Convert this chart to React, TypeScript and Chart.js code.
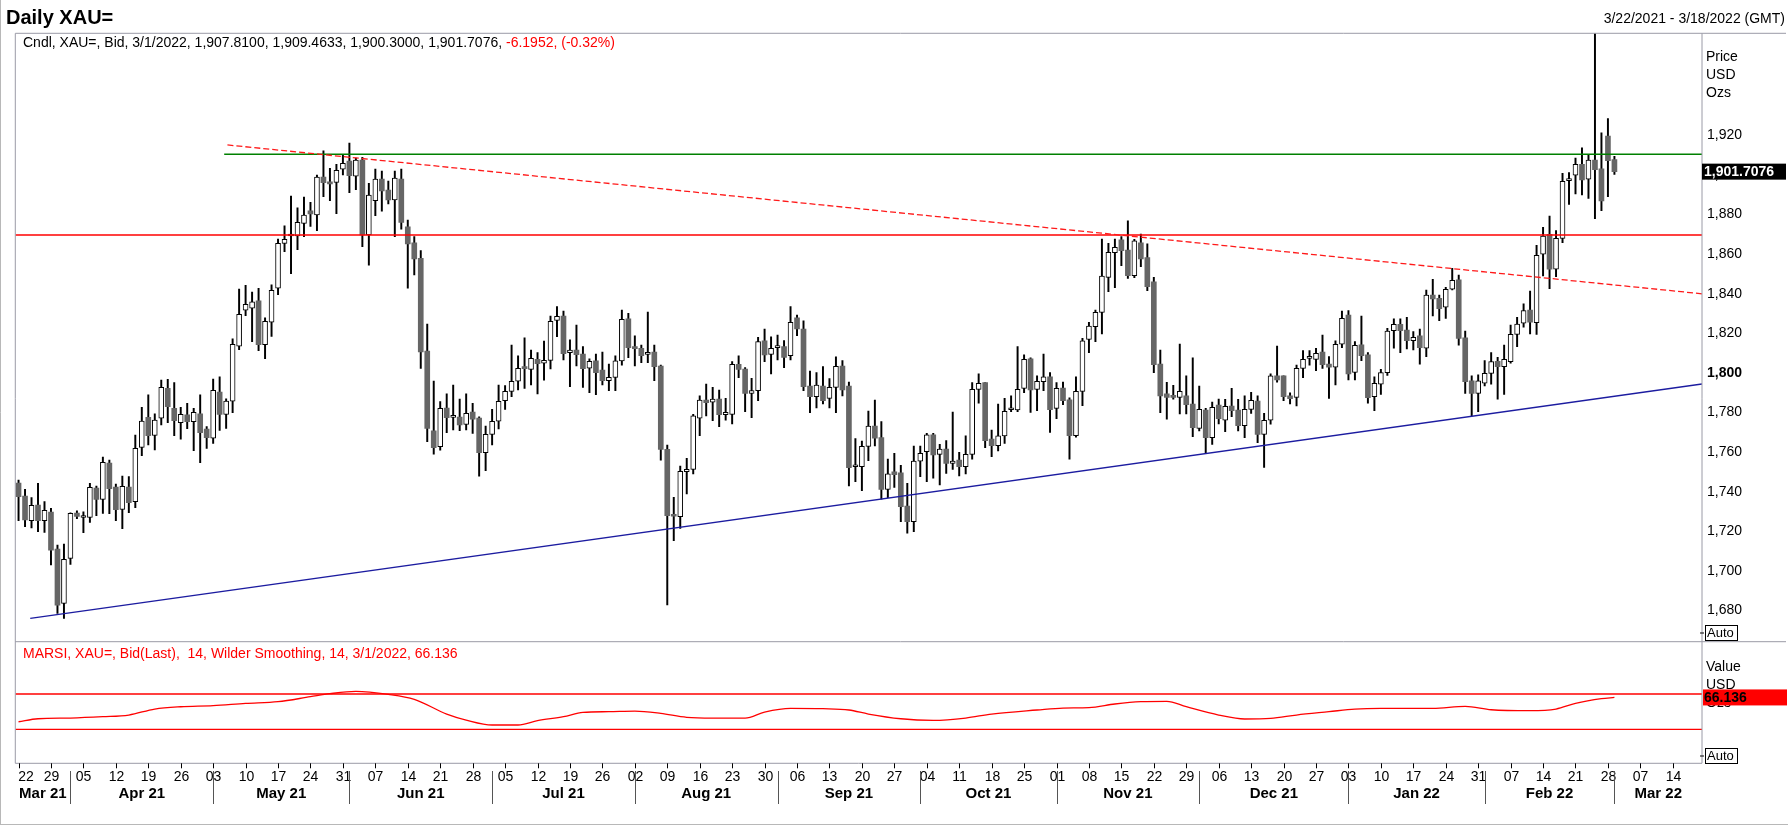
import React, { useEffect, useRef } from "react";
import { Chart, registerables } from "chart.js";

Chart.register(...registerables);

const W = 1788;
const H = 827;
const FONT = '"Liberation Sans", Arial, Helvetica, sans-serif';

// ---------- categories (one slot per weekday, 3/22/2021 .. 3/18/2022) ----------
function buildWeekdays(startIso: string, count: number): string[] {
  const out: string[] = [];
  const d = new Date(startIso + "T00:00:00Z");
  while (out.length < count) {
    const wd = d.getUTCDay();
    if (wd !== 0 && wd !== 6) out.push(d.toISOString().slice(0, 10));
    d.setUTCDate(d.getUTCDate() + 1);
  }
  return out;
}
const dates = buildWeekdays("2021-03-22", 260);

// ---------- daily OHLC (XAU=, Bid) ----------
const openP = [
  1744.4,1737.8,1725.4,1733.3,1725.4,1729.7,1711.0,1683.6,1706.3,1729.2,
  1727.0,1727.0,1741.9,1736.1,1754.5,1742.4,1731.1,1742.4,1735.0,1762.4,
  1777.6,1768.5,1777.1,1792.2,1782.1,1774.9,1778.8,1775.4,1779.3,1771.7,
  1767.0,1790.4,1779.0,1785.8,1813.5,1831.7,1832.7,1836.4,1814.3,1825.6,
  1842.8,1865.5,1869.2,1869.2,1875.6,1881.9,1879.8,1899.0,1895.8,1896.3,
  1902.9,1907.1,1899.4,1907.5,1869.7,1887.1,1898.0,1892.4,1887.4,1898.0,
  1873.8,1865.8,1857.9,1811.1,1770.8,1762.8,1782.3,1777.6,1777.7,1774.0,
  1780.3,1777.2,1759.7,1769.0,1775.6,1786.0,1790.7,1795.8,1802.5,1801.8,
  1806.9,1804.9,1806.4,1826.6,1828.8,1810.3,1811.6,1809.6,1802.4,1806.1,
  1801.5,1796.1,1797.8,1806.1,1827.3,1812.8,1812.5,1809.4,1810.6,1803.5,
  1761.4,1728.1,1727.4,1750.1,1751.3,1777.1,1786.3,1785.2,1786.8,1778.9,
  1779.1,1804.4,1802.0,1789.7,1791.1,1816.2,1809.4,1812.8,1813.3,1808.7,
  1827.8,1822.2,1793.4,1788.0,1793.4,1787.2,1792.7,1803.5,1793.4,1752.6,
  1752.7,1762.9,1773.2,1767.3,1741.2,1750.0,1749.5,1732.8,1724.9,1755.5,
  1760.3,1768.7,1758.9,1761.6,1754.3,1756.0,1752.7,1758.9,1791.7,1795.1,
  1766.6,1763.3,1768.2,1781.4,1781.3,1792.2,1807.1,1791.7,1795.6,1798.0,
  1782.1,1792.4,1786.4,1768.3,1790.7,1817.0,1823.4,1830.6,1848.3,1860.8,
  1867.2,1862.1,1849.2,1865.8,1858.3,1846.0,1804.5,1789.4,1788.4,1787.7,
  1788.4,1784.3,1772.0,1781.3,1767.3,1783.8,1776.1,1783.3,1781.3,1773.4,
  1781.6,1785.8,1769.0,1776.1,1798.5,1798.5,1788.4,1787.7,1802.3,1807.4,
  1806.9,1810.6,1804.5,1802.9,1814.5,1829.3,1800.3,1814.2,1809.1,1788.0,
  1794.3,1800.2,1821.4,1824.6,1821.7,1816.3,1818.7,1812.5,1839.4,1837.7,
  1833.2,1842.3,1847.0,1817.8,1796.0,1789.7,1794.8,1799.8,1805.9,1803.2,
  1805.7,1819.5,1825.1,1831.8,1825.4,1860.0,1870.1,1852.4,1868.0,1897.2,
  1899.9,1905.4,1897.9,1907.6,1903.1,1919.7,1907.81,
];
const highP = [
  1745.9,1741.2,1737.1,1744.2,1735.0,1731.6,1713.1,1713.6,1729.4,1730.4,
  1729.9,1744.2,1742.9,1757.5,1756.0,1743.9,1747.9,1747.6,1768.6,1782.6,
  1788.9,1779.3,1796.4,1796.8,1795.1,1782.6,1784.6,1782.1,1788.9,1772.9,
  1796.9,1798.0,1786.9,1817.2,1842.4,1844.3,1840.8,1842.8,1827.8,1844.5,
  1867.7,1874.3,1889.4,1883.4,1888.8,1886.2,1900.0,1912.2,1903.4,1905.4,
  1910.1,1916.2,1908.5,1909.0,1895.8,1903.0,1902.0,1897.0,1902.0,1903.0,
  1877.3,1868.9,1861.8,1824.7,1795.9,1785.5,1789.4,1793.9,1786.8,1789.4,
  1784.7,1777.9,1773.2,1781.6,1793.9,1793.6,1814.1,1808.6,1817.7,1811.6,
  1810.3,1816.1,1828.8,1833.5,1831.3,1816.7,1824.2,1813.3,1807.1,1809.6,
  1810.6,1804.5,1808.6,1831.8,1830.1,1818.7,1814.1,1830.8,1814.1,1804.0,
  1763.6,1737.2,1753.0,1756.9,1779.1,1788.4,1794.4,1792.7,1791.4,1787.2,
  1805.7,1808.6,1802.7,1797.3,1818.0,1822.2,1818.3,1819.2,1816.3,1833.5,
  1829.3,1826.4,1801.0,1800.2,1803.2,1797.1,1808.1,1806.2,1795.4,1766.8,
  1765.6,1780.8,1786.3,1775.4,1756.5,1759.4,1753.3,1744.2,1763.1,1763.1,
  1769.5,1769.5,1763.9,1765.8,1780.3,1759.9,1768.2,1795.1,1799.5,1795.1,
  1771.2,1784.3,1787.2,1788.4,1813.3,1809.1,1807.7,1798.5,1809.6,1800.2,
  1795.1,1795.4,1787.4,1798.0,1817.5,1825.6,1831.8,1867.7,1865.5,1867.7,
  1868.9,1876.8,1867.5,1870.2,1865.2,1848.3,1811.6,1795.3,1793.8,1814.6,
  1798.5,1807.6,1793.4,1782.1,1785.3,1786.8,1786.7,1792.2,1786.7,1788.4,
  1790.2,1788.4,1779.6,1799.5,1813.6,1798.5,1790.0,1804.0,1811.3,1811.3,
  1812.5,1819.2,1808.3,1816.2,1831.3,1831.5,1815.8,1828.8,1810.3,1798.1,
  1801.8,1822.6,1827.4,1827.4,1828.1,1820.9,1822.2,1841.9,1847.3,1839.4,
  1843.3,1852.9,1849.5,1821.2,1798.5,1799.0,1806.2,1810.3,1807.9,1814.1,
  1824.2,1828.1,1834.9,1841.4,1864.5,1873.6,1879.3,1871.9,1900.9,1901.2,
  1908.5,1913.7,1910.1,1974.0,1921.3,1928.5,1909.46,
];
const lowP = [
  1725.4,1722.3,1721.7,1719.8,1719.5,1703.0,1678.5,1676.0,1703.3,1726.4,
  1719.3,1724.5,1727.9,1729.1,1728.9,1725.4,1721.3,1729.4,1731.9,1758.2,
  1763.6,1761.1,1773.7,1774.9,1768.3,1766.6,1771.8,1760.7,1754.7,1761.9,
  1764.4,1771.0,1772.0,1780.0,1811.8,1829.0,1815.8,1811.3,1807.2,1818.4,
  1839.6,1861.3,1850.2,1862.3,1868.9,1874.0,1871.9,1889.1,1887.1,1880.5,
  1900.0,1891.1,1892.6,1863.8,1854.5,1879.5,1881.8,1885.4,1868.9,1872.7,
  1842.8,1849.5,1802.3,1765.3,1759.0,1761.0,1769.8,1771.2,1770.8,1771.2,
  1769.5,1747.9,1750.6,1763.6,1771.7,1781.6,1788.0,1791.4,1792.2,1793.9,
  1789.4,1796.4,1802.0,1818.3,1806.6,1793.1,1803.5,1792.7,1790.0,1789.0,
  1793.9,1791.1,1791.1,1804.0,1807.7,1803.5,1805.2,1805.2,1796.1,1756.0,
  1682.8,1715.3,1721.5,1738.9,1749.0,1768.3,1778.3,1775.9,1772.9,1776.2,
  1774.2,1797.6,1780.5,1777.4,1786.0,1805.7,1799.5,1806.6,1802.7,1806.6,
  1818.9,1791.1,1779.9,1782.4,1784.3,1782.4,1779.9,1788.4,1742.9,1745.1,
  1740.5,1755.7,1763.1,1736.2,1737.0,1742.2,1724.9,1719.0,1719.8,1747.6,
  1745.1,1746.8,1743.4,1749.3,1751.3,1748.0,1749.0,1756.4,1784.7,1762.3,
  1757.7,1760.6,1764.4,1780.4,1780.4,1790.0,1780.1,1781.0,1791.1,1769.9,
  1776.9,1784.0,1756.4,1767.5,1783.5,1810.3,1815.8,1819.7,1841.1,1843.1,
  1854.2,1847.8,1848.2,1853.7,1841.6,1800.2,1779.9,1776.6,1786.7,1779.3,
  1779.3,1767.8,1770.7,1759.4,1763.9,1774.2,1770.4,1777.9,1770.7,1767.3,
  1779.6,1764.8,1752.3,1774.1,1795.3,1786.0,1784.3,1783.3,1797.6,1804.0,
  1801.2,1802.3,1787.2,1793.9,1812.8,1796.5,1796.5,1806.2,1784.7,1781.0,
  1789.2,1798.7,1812.5,1810.3,1812.1,1811.6,1804.4,1808.2,1828.8,1826.4,
  1827.6,1841.9,1814.0,1789.7,1778.4,1780.5,1793.4,1794.3,1786.7,1789.2,
  1804.9,1813.3,1823.1,1819.7,1819.5,1849.0,1842.6,1848.7,1865.8,1885.2,
  1890.4,1889.9,1888.2,1878.0,1882.0,1889.1,1900.30,
];
const closeP = [
  1737.5,1725.7,1733.1,1725.4,1730.6,1710.5,1682.7,1705.8,1729.1,1727.5,
  1727.2,1742.2,1736.1,1754.8,1741.5,1730.9,1742.7,1734.5,1761.9,1775.7,
  1768.3,1776.2,1792.7,1783.0,1775.9,1779.1,1775.4,1780.1,1769.8,1767.3,
  1791.2,1779.0,1785.8,1814.5,1829.6,1834.7,1836.0,1814.3,1826.1,1841.8,
  1865.5,1867.5,1869.3,1876.1,1879.8,1880.3,1898.9,1896.2,1895.5,1902.4,
  1905.9,1899.7,1907.5,1869.7,1889.9,1898.0,1892.0,1887.4,1898.5,1876.0,
  1865.2,1857.6,1810.6,1772.0,1762.2,1782.1,1777.4,1777.6,1773.7,1779.6,
  1776.7,1759.7,1769.0,1775.6,1785.7,1790.7,1795.8,1802.3,1802.2,1807.4,
  1804.7,1806.4,1826.1,1828.6,1809.8,1811.6,1809.3,1802.2,1805.9,1800.2,
  1796.1,1797.8,1806.1,1827.1,1812.8,1812.3,1808.7,1810.4,1803.2,1761.4,
  1727.9,1727.6,1750.3,1751.3,1778.3,1786.3,1785.0,1786.8,1778.9,1780.1,
  1804.4,1801.8,1789.7,1791.1,1815.8,1809.1,1812.4,1812.8,1807.9,1825.6,
  1822.2,1793.1,1788.0,1793.9,1786.0,1792.7,1803.4,1791.4,1752.2,1752.6,
  1762.9,1773.2,1767.0,1741.2,1749.0,1748.6,1732.4,1724.9,1755.5,1759.4,
  1768.7,1758.6,1761.6,1754.3,1755.5,1752.7,1758.9,1791.7,1794.8,1765.8,
  1763.3,1768.2,1780.6,1781.4,1791.7,1806.9,1791.4,1795.8,1798.0,1781.4,
  1792.2,1786.0,1768.3,1790.7,1816.2,1823.7,1830.6,1849.0,1861.0,1863.5,
  1861.8,1849.2,1866.7,1857.6,1843.6,1804.2,1788.4,1787.7,1787.7,1790.7,
  1784.0,1772.4,1781.6,1767.3,1782.6,1776.9,1783.1,1781.0,1773.4,1781.6,
  1786.2,1769.0,1776.1,1798.5,1796.5,1788.0,1787.0,1802.3,1806.9,1807.4,
  1809.9,1804.2,1802.9,1814.5,1827.6,1799.5,1814.0,1808.8,1787.5,1794.8,
  1800.2,1821.2,1824.6,1821.4,1816.3,1818.0,1812.8,1839.3,1837.4,1832.5,
  1842.3,1846.8,1817.5,1795.6,1789.7,1796.0,1799.8,1805.7,1803.2,1806.9,
  1819.5,1824.7,1831.5,1825.6,1859.4,1869.2,1852.4,1868.0,1896.8,1897.2,
  1905.4,1897.5,1907.6,1902.7,1886.9,1907.3,1901.71,
];

// ---------- drawn levels / trend lines (slot index, price) ----------
const redLevel = 1869.7;
const greenLevelX = [31.7, 259.5];
const greenLevel = 1910.5;
const downTrendX = [32.2, 259.5];
const downTrendY = [1915.2, 1840.0];
const upTrendX = [1.8, 259.5];
const upTrendY = [1676.0, 1794.4];

// ---------- MARSI (smoothed RSI) ----------
const rsiIdx = [0,3,8,13,17,21,25,30,35,40,45,48,52,57,61,66,69,73,77,80,84,87,91,95,99,103,107,112,115,119,124,128,131,136,141,146,150,157,161,165,169,173,177,180,185,189,193,197,202,206,210,218,223,227,233,237,240,244,246];
const rsiVal = [38.6,42.0,42.8,44.3,46.2,53.0,55.6,56.8,59.4,61.3,67.0,70.4,73.0,69.6,64.0,47.3,40.5,34.9,34.9,39.8,44.3,49.2,50.0,50.7,48.1,43.6,42.8,42.8,49.6,53.8,53.4,51.9,47.3,42.0,40.2,42.8,47.3,51.9,54.1,54.5,58.7,61.3,61.7,55.6,46.2,41.7,42.4,46.2,50.0,53.0,53.8,53.8,56.0,52.2,51.1,53.0,59.4,64.7,66.136];
const rsiLevels = [70, 30];

// ---------- tick labels ----------
const priceTicks = [1680,1700,1720,1740,1760,1780,1800,1820,1840,1860,1880,1900,1920];
const weekTickLabels = ["22","29","05","12","19","26","03","10","17","24","31","07","14","21","28","05","12","19","26","02","09","16","23","30","06","13","20","27","04","11","18","25","01","08","15","22","29","06","13","20","27","03","10","17","24","31","07","14","21","28","07","14"];
const monthNames = ["Mar 21","Apr 21","May 21","Jun 21","Jul 21","Aug 21","Sep 21","Oct 21","Nov 21","Dec 21","Jan 22","Feb 22","Mar 22"];
const monthStartIdx = [0,8,30,51,73,95,117,139,160,182,205,226,246];

const lastPrice = 1901.7076;
const lastRsi = 66.136;
const headerMain = "Cndl, XAU=, Bid, 3/1/2022, 1,907.8100, 1,909.4633, 1,900.3000, 1,901.7076, ";
const headerChange = "-6.1952, (-0.32%)";
const rsiHeader = "MARSI, XAU=, Bid(Last),  14, Wilder Smoothing, 14, 3/1/2022, 66.136";

// ---------- layout ----------
const PLOT_LEFT = 15.3;
const PLOT_TOP = 33.3;
const PLOT_RIGHT = 1702;
const PLOT_BOTTOM = 763.3;
const PANEL_SPLIT = 641.7;
const PRICE_MIN = 1602.8;
const PRICE_MAX = 1971.6;
const RSI_MIN = -8.5;
const RSI_MAX = 818.7;

const overlay = {
  id: "overlay",
  afterDraw(chart: any) {
    const ctx: CanvasRenderingContext2D = chart.ctx;
    const ca = chart.chartArea;
    const xs = chart.scales.x;
    const ys = chart.scales.y;
    const y2s = chart.scales.y2;
    const seg = (x1: number, y1: number, x2: number, y2: number) => {
      ctx.beginPath();
      ctx.moveTo(x1, y1);
      ctx.lineTo(x2, y2);
      ctx.stroke();
    };
    ctx.save();
    ctx.lineWidth = 1;

    // outer frame
    ctx.strokeStyle = "#b8b8b8";
    seg(0.5, 0, 0.5, 824.5);
    seg(0, 824.5, W, 824.5);

    // panel borders
    ctx.strokeStyle = "#9a9aa6";
    seg(ca.left, ca.top, W - 2, ca.top);
    seg(ca.left, ca.top, ca.left, ca.bottom);
    seg(ca.right, ca.top, ca.right, ca.bottom);
    seg(ca.left, PANEL_SPLIT, W - 2, PANEL_SPLIT);
    seg(ca.left, ca.bottom, ca.right, ca.bottom);

    ctx.textBaseline = "middle";
    ctx.textAlign = "left";

    // titles
    ctx.fillStyle = "#000";
    ctx.font = "bold 20px " + FONT;
    ctx.fillText("Daily XAU=", 6, 18);
    ctx.font = "14px " + FONT;
    ctx.textAlign = "right";
    ctx.fillText("3/22/2021 - 3/18/2022 (GMT)", 1785, 19);
    ctx.textAlign = "left";
    ctx.fillText(headerMain, 23, 43);
    const hw = ctx.measureText(headerMain).width;
    ctx.fillStyle = "#ff0000";
    ctx.fillText(headerChange, 23 + hw, 43);

    // price axis
    ctx.fillStyle = "#000";
    ctx.fillText("Price", 1706, 57);
    ctx.fillText("USD", 1706, 75);
    ctx.fillText("Ozs", 1706, 93);
    priceTicks.forEach((v) => {
      const py = ys.getPixelForValue(v);
      ctx.font = (v === 1800 ? "bold " : "") + "14px " + FONT;
      ctx.fillText(v.toLocaleString("en-US"), 1707, py);
    });
    // last price box
    const lp = ys.getPixelForValue(lastPrice);
    ctx.fillStyle = "#000";
    ctx.fillRect(ca.right, lp - 8, 84, 16);
    ctx.fillStyle = "#fff";
    ctx.font = "bold 14px " + FONT;
    ctx.fillText("1,901.7076", ca.right + 2, lp + 0.5);

    // Auto boxes
    const autoBox = (x: number, yTop: number) => {
      ctx.strokeStyle = "#000";
      seg(x - 5, yTop + 8, x - 1, yTop + 8);
      ctx.strokeRect(x + 0.5, yTop + 0.5, 32, 15);
      ctx.fillStyle = "#000";
      ctx.font = "13px " + FONT;
      ctx.fillText("Auto", x + 2, yTop + 8.5);
    };
    autoBox(1705, 625);
    autoBox(1705, 748);

    // RSI pane texts
    ctx.fillStyle = "#ff0000";
    ctx.font = "14px " + FONT;
    ctx.fillText(rsiHeader, 23, 654);
    ctx.fillStyle = "#000";
    ctx.fillText("Value", 1706, 667);
    ctx.fillText("USD", 1706, 685);
    ctx.fillText("Ozs", 1706, 703);
    const rp = y2s.getPixelForValue(lastRsi);
    ctx.fillStyle = "#ff0000";
    ctx.fillRect(ca.right + 1, rp - 8, 84, 16);
    ctx.fillStyle = "#000";
    ctx.font = "bold 14px " + FONT;
    ctx.fillText("66.136", ca.right + 2, rp + 0.5);

    // x axis: weekly ticks and day numbers
    ctx.strokeStyle = "#000";
    ctx.fillStyle = "#000";
    ctx.font = "14px " + FONT;
    ctx.textAlign = "center";
    weekTickLabels.forEach((lab, k) => {
      const px = Math.round(xs.getPixelForValue(k * 5)) + 0.5;
      seg(px, ca.bottom, px, ca.bottom + 5);
      const tw = ctx.measureText(lab).width;
      ctx.fillText(lab, Math.max(px, ca.left + tw / 2 + 3), 777);
    });
    // month separators and names
    ctx.strokeStyle = "#555";
    const seps = monthStartIdx.map((i, k) => (k === 0 ? ca.left : xs.getPixelForValue(i)));
    seps.forEach((sx, k) => {
      if (k > 0) seg(Math.round(sx) + 0.5, 771, Math.round(sx) + 0.5, 804);
    });
    ctx.font = "bold 15px " + FONT;
    monthNames.forEach((name, k) => {
      const a = seps[k];
      const b = k + 1 < seps.length ? seps[k + 1] : ca.right;
      ctx.fillText(name, (a + b) / 2, 794);
    });
    ctx.restore();
  },
};

function lineSet(label: string, pts: { x: number; y: number }[], yAxisID: string, color: string, extra: any = {}) {
  return {
    type: "line",
    label,
    data: pts,
    xAxisID: "xl",
    yAxisID,
    borderColor: color,
    borderWidth: 1.3,
    pointRadius: 0,
    order: 0,
    ...extra,
  } as any;
}

export default function App() {
  const ref = useRef<HTMLCanvasElement>(null);
  useEffect(() => {
    if (!ref.current) return;
    const up = openP.map((o, i) => closeP[i] >= o);
    const lastSlot = dates.length - 0.5;
    const chart = new Chart(ref.current, {
      type: "bar",
      data: {
        labels: dates,
        datasets: [
          lineSet("Up trend", upTrendX.map((x, i) => ({ x, y: upTrendY[i] })), "y", "#1c1ca0", { borderWidth: 1.4 }),
          lineSet("Down trend", downTrendX.map((x, i) => ({ x, y: downTrendY[i] })), "y", "#ff1a1a", { borderDash: [6, 3] }),
          lineSet("Level 1870", [{ x: -0.5, y: redLevel }, { x: lastSlot, y: redLevel }], "y", "#ff0000"),
          lineSet("Level 1910", greenLevelX.map((x) => ({ x, y: greenLevel })), "y", "#008000"),
          ...rsiLevels.map((lv) => lineSet("RSI " + lv, [{ x: -0.5, y: lv }, { x: lastSlot, y: lv }], "y2", "#ff0000")),
          lineSet("MARSI", rsiIdx.map((x, i) => ({ x, y: rsiVal[i] })), "y2", "#ff0000", {
            tension: 0.4,
            cubicInterpolationMode: "monotone",
          }),
          {
            type: "bar",
            label: "Body",
            data: openP.map((o, i) => [o, closeP[i]]),
            xAxisID: "x",
            yAxisID: "y",
            backgroundColor: up.map((u) => (u ? "#ffffff" : "#666666")),
            borderColor: up.map((u) => (u ? "#000000" : "#666666")),
            borderWidth: up.map((u) => (u ? 1 : 0)),
            borderSkipped: false,
            barThickness: 5,
            minBarLength: 2,
            grouped: false,
            order: 1,
          } as any,
          {
            type: "bar",
            label: "Wick",
            data: lowP.map((l, i) => [l, highP[i]]),
            xAxisID: "x",
            yAxisID: "y",
            backgroundColor: "#000000",
            borderWidth: 0,
            barThickness: 1.3,
            grouped: false,
            order: 2,
          } as any,
        ],
      },
      options: {
        animation: false,
        responsive: false,
        maintainAspectRatio: false,
        events: [],
        layout: {
          padding: {
            left: PLOT_LEFT,
            top: PLOT_TOP,
            right: W - PLOT_RIGHT,
            bottom: H - PLOT_BOTTOM,
          },
        },
        scales: {
          x: { type: "category", offset: true, display: false },
          xl: {
            type: "linear",
            min: -0.5,
            max: lastSlot,
            offset: false,
            bounds: "data",
            grace: 0,
            grid: { offset: false },
            display: false,
          },
          y: { type: "linear", min: PRICE_MIN, max: PRICE_MAX, display: false },
          y2: { type: "linear", min: RSI_MIN, max: RSI_MAX, display: false },
        },
        plugins: {
          legend: { display: false },
          tooltip: { enabled: false },
        },
      } as any,
      plugins: [overlay as any],
    });
    return () => chart.destroy();
  }, []);

  return (
    <div style={{ position: "absolute", left: 0, top: 0, width: W, height: H, background: "#ffffff" }}>
      <canvas ref={ref} width={W} height={H} style={{ display: "block", width: W, height: H }} />
    </div>
  );
}
